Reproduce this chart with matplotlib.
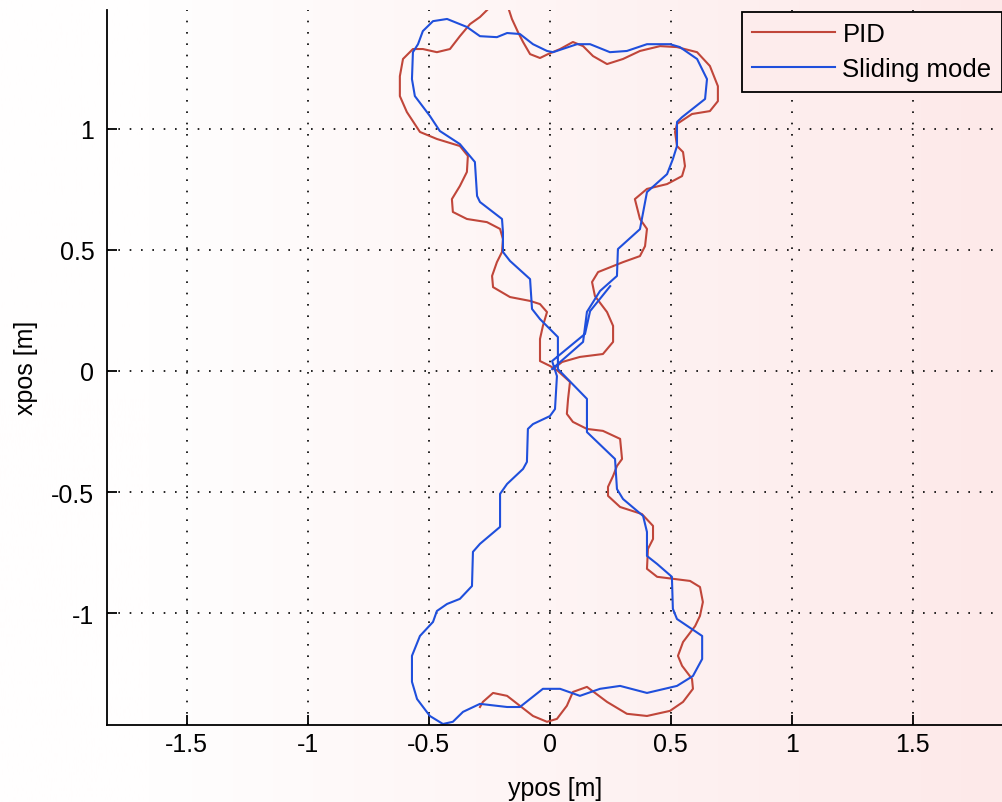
import numpy as np
import matplotlib
matplotlib.use("Agg")
import matplotlib.pyplot as plt

# Trayectoria del controlador PID (eje horizontal: ypos, eje vertical: xpos)
pid_ypos = [0.014, 0.051, 0.125, 0.220, 0.262, 0.262, 0.237, 0.187, 0.175, 0.200,
            0.303, 0.373, 0.394, 0.402, 0.373, 0.352, 0.402, 0.485, 0.547, 0.559,
            0.551, 0.526, 0.518, 0.526, 0.588, 0.662, 0.695, 0.695, 0.662, 0.609,
            0.526, 0.456, 0.373, 0.303, 0.237, 0.179, 0.138, 0.096, 0.043, -0.007,
            -0.040, -0.081, -0.110, -0.131, -0.156, -0.176, -0.234, -0.288, -0.329, -0.371,
            -0.412, -0.466, -0.524, -0.565, -0.606, -0.619, -0.619, -0.590, -0.536, -0.466,
            -0.371, -0.338, -0.342, -0.371, -0.404, -0.400, -0.342, -0.259, -0.205, -0.193,
            -0.197, -0.218, -0.238, -0.234, -0.164, -0.081, -0.040, -0.011, -0.028, -0.040,
            -0.040, 0.001, 0.034, 0.084, 0.076, 0.071, 0.096, 0.154, 0.220, 0.291,
            0.299, 0.278, 0.262, 0.241, 0.241, 0.291, 0.381, 0.427, 0.427, 0.406,
            0.402, 0.444, 0.580, 0.621, 0.633, 0.621, 0.601, 0.551, 0.530, 0.547,
            0.588, 0.592, 0.551, 0.497, 0.402, 0.319, 0.237, 0.154, 0.096, 0.071,
            0.030, -0.011, -0.069, -0.123, -0.176, -0.234, -0.276, -0.288]
pid_xpos = [0.008, 0.037, 0.058, 0.070, 0.120, 0.186, 0.243, 0.309, 0.367, 0.408,
            0.449, 0.474, 0.515, 0.586, 0.627, 0.709, 0.751, 0.771, 0.804, 0.845,
            0.903, 0.928, 0.986, 1.019, 1.060, 1.072, 1.113, 1.175, 1.258, 1.315,
            1.336, 1.340, 1.320, 1.287, 1.266, 1.299, 1.340, 1.357, 1.328, 1.307,
            1.291, 1.307, 1.357, 1.398, 1.452, 1.513, 1.513, 1.460, 1.431, 1.381,
            1.328, 1.315, 1.328, 1.328, 1.287, 1.216, 1.134, 1.068, 0.986, 0.957,
            0.928, 0.887, 0.821, 0.763, 0.709, 0.656, 0.627, 0.614, 0.586, 0.544,
            0.491, 0.449, 0.392, 0.346, 0.305, 0.289, 0.276, 0.243, 0.186, 0.132,
            0.041, 0.021, 0.000, -0.045, -0.115, -0.177, -0.210, -0.239, -0.247, -0.280,
            -0.363, -0.392, -0.433, -0.478, -0.515, -0.561, -0.590, -0.639, -0.693, -0.734,
            -0.816, -0.849, -0.866, -0.891, -0.953, -1.010, -1.052, -1.118, -1.175, -1.216,
            -1.270, -1.311, -1.365, -1.402, -1.423, -1.414, -1.365, -1.303, -1.324, -1.381,
            -1.435, -1.447, -1.423, -1.381, -1.340, -1.328, -1.365, -1.386]

# Trayectoria del control por modo deslizante
sm_ypos = [0.010, 0.034, 0.138, 0.154, 0.208, 0.278, 0.282, 0.373, 0.402, 0.485,
           0.509, 0.526, 0.526, 0.547, 0.642, 0.650, 0.609, 0.538, 0.497, 0.402,
           0.319, 0.249, 0.167, 0.113, 0.014, -0.011, -0.069, -0.123, -0.176, -0.218,
           -0.288, -0.342, -0.424, -0.482, -0.524, -0.544, -0.565, -0.569, -0.557, -0.495,
           -0.454, -0.371, -0.309, -0.300, -0.288, -0.197, -0.193, -0.193, -0.164, -0.081,
           -0.073, -0.040, 0.034, 0.034, 0.154, 0.154, 0.270, 0.278, 0.303, 0.386,
           0.402, 0.402, 0.444, 0.505, 0.509, 0.526, 0.630, 0.630, 0.592, 0.526,
           0.402, 0.291, 0.208, 0.125, 0.043, -0.028, -0.123, -0.176, -0.288, -0.358,
           -0.400, -0.441, -0.495, -0.548, -0.569, -0.569, -0.536, -0.482, -0.466, -0.424,
           -0.371, -0.321, -0.317, -0.288, -0.205, -0.205, -0.176, -0.110, -0.094, -0.090,
           -0.069, 0.001, 0.022, 0.030, 0.010, 0.146, 0.167, 0.250]
sm_xpos = [0.008, 0.029, 0.120, 0.244, 0.330, 0.392, 0.503, 0.585, 0.738, 0.812,
           0.874, 0.928, 1.027, 1.047, 1.122, 1.204, 1.287, 1.336, 1.348, 1.348,
           1.320, 1.315, 1.348, 1.348, 1.315, 1.320, 1.348, 1.390, 1.394, 1.377,
           1.381, 1.419, 1.452, 1.443, 1.402, 1.348, 1.315, 1.204, 1.134, 1.052,
           0.990, 0.936, 0.862, 0.722, 0.697, 0.627, 0.573, 0.491, 0.454, 0.379,
           0.256, 0.214, 0.140, 0.008, -0.115, -0.252, -0.363, -0.487, -0.528, -0.598,
           -0.664, -0.763, -0.796, -0.849, -0.981, -1.023, -1.093, -1.188, -1.258, -1.299,
           -1.328, -1.299, -1.311, -1.340, -1.311, -1.311, -1.386, -1.386, -1.373, -1.406,
           -1.447, -1.456, -1.423, -1.353, -1.282, -1.175, -1.093, -1.035, -0.990, -0.961,
           -0.940, -0.887, -0.746, -0.713, -0.643, -0.507, -0.466, -0.404, -0.375, -0.239,
           -0.219, -0.186, -0.157, -0.021, 0.041, 0.153, 0.247, 0.350]

xticks = [-1.5, -1, -0.5, 0, 0.5, 1, 1.5]
xtick_labels = ["-1.5", "-1", "-0.5", "0", "0.5", "1", "1.5"]
yticks = [-1, -0.5, 0, 0.5, 1]
ytick_labels = ["-1", "-0.5", "0", "0.5", "1"]

plt.rcParams['font.family'] = ['Liberation Sans', 'DejaVu Sans']

W, H = 1003, 803
fig = plt.figure(figsize=(W / 100, H / 100), dpi=100)

# Fondo degradado de blanco a rosado
bg = fig.add_axes([0, 0, 1, 1], zorder=-1)
t = np.clip((np.linspace(0, 1, 400) - 0.15) / 0.85, 0, 1)
c0 = np.array([255, 254, 254]) / 255
c1 = np.array([253, 233, 233]) / 255
grad = c0[None, :] * (1 - t[:, None]) + c1[None, :] * t[:, None]
bg.imshow(grad[None, :, :], aspect='auto', extent=[0, 1, 0, 1])
bg.axis('off')

left, right, bottom, top = 107, 1003, 725.7, 11
ax = fig.add_axes([left / W, 1 - bottom / H, (right - left) / W, (bottom - top) / H])
ax.set_facecolor('none')

ax.plot(pid_ypos, pid_xpos, color='#c0463a', linewidth=1.5, label='PID')
ax.plot(sm_ypos, sm_xpos, color='#1f4fdc', linewidth=1.5, label='Sliding mode')

ax.set_xlim(-1.829, 1.873)
ax.set_ylim(-1.459, 1.489)
ax.set_xticks(xticks)
ax.set_xticklabels(xtick_labels)
ax.set_yticks(yticks)
ax.set_yticklabels(ytick_labels)

# Configuración de cuadrícula, ejes y etiquetas
ax.grid(True, color='black', linestyle=(0, (1, 5.8)), linewidth=1.2)
for s in ['top', 'right']:
    ax.spines[s].set_visible(False)
for s in ['left', 'bottom']:
    ax.spines[s].set_linewidth(1.3)
ax.tick_params(direction='in', length=7, width=1.3, labelsize=18)
ax.tick_params(axis='x', pad=5)
ax.tick_params(axis='y', pad=9)

ax.set_xlabel('ypos [m]', fontsize=18)
ax.set_ylabel('xpos [m]', fontsize=18)
ax.xaxis.set_label_coords(0.5, -0.072)
ax.yaxis.set_label_coords(-0.077, 0.5)

leg = ax.legend(loc='upper left', bbox_to_anchor=(742 / W, 1 - 13 / H),
                bbox_transform=fig.transFigure, fontsize=18.5, borderaxespad=0,
                borderpad=0.4, handlelength=3.2, handletextpad=0.31,
                labelspacing=0.43, fancybox=False, framealpha=1)
leg.get_frame().set_edgecolor('black')
leg.get_frame().set_linewidth(1.3)
leg.get_frame().set_facecolor('#fdecec')

fig.savefig('out.png', dpi=100)
